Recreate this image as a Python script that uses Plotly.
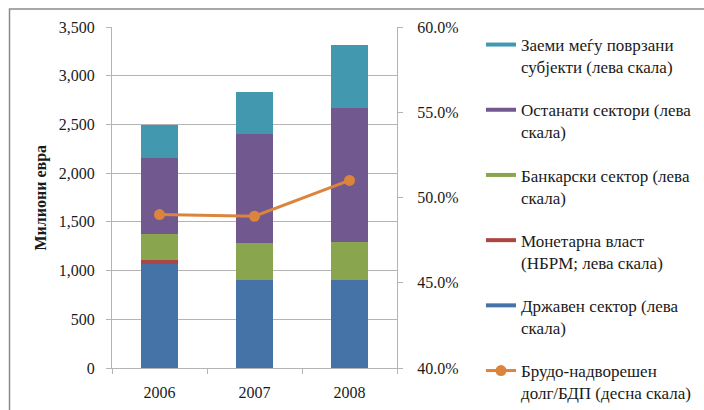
import plotly.graph_objects as go

# External debt by sector, million euro (left scale) and gross external debt / GDP (right scale)
years = ["2006", "2007", "2008"]
government = [1070, 900, 907]
monetary_authority = [40, 0, 0]
banking = [268, 382, 386]
other_sectors = [780, 1116, 1375]
intercompany = [332, 431, 646]
debt_to_gdp = [0.490, 0.489, 0.510]

left_ticks = [0, 500, 1000, 1500, 2000, 2500, 3000, 3500]
right_ticks = [0.40, 0.45, 0.50, 0.55, 0.60]

series = [
    ("Државен сектор (лева<br>скала)", government, "#4572A7", 5),
    ("Монетарна власт<br>(НБРМ; лева скала)", monetary_authority, "#AA4643", 4),
    ("Банкарски сектор (лева<br>скала)", banking, "#89A54E", 3),
    ("Останати сектори (лева<br>скала)", other_sectors, "#71588F", 2),
    ("Заеми меѓу поврзани<br>субјекти (лева скала)", intercompany, "#4198AF", 1),
]

FONT = "Liberation Serif, Times New Roman, serif"
GRID = "#b4b4b4"

fig = go.Figure()

for name, values, color, rank in series:
    fig.add_trace(go.Bar(
        x=years, y=values, name=name, marker=dict(color=color, line=dict(width=0)),
        showlegend=False, yaxis="y",
    ))
    # thin wide legend swatch
    fig.add_trace(go.Scatter(
        x=[None], y=[None], mode="lines", name=name,
        line=dict(color=color, width=4), legendgroup=name, legendrank=rank,
        showlegend=True, yaxis="y",
    ))

line_name = "Брудо-надворешен<br>долг/БДП (десна скала)"
fig.add_trace(go.Scatter(
    x=years, y=debt_to_gdp, name=line_name, mode="lines+markers",
    line=dict(color="#DB843D", width=3), marker=dict(size=11, color="#DB843D"),
    yaxis="y2", legendgroup=line_name, legendrank=6,
))

tick_font = dict(family=FONT, size=16, color="#1a1a1a")

fig.update_layout(
    width=704, height=410,
    margin=dict(l=112, r=307, t=27, b=42, autoexpand=False),
    paper_bgcolor="white", plot_bgcolor="white",
    barmode="stack", bargap=0.61,
    font=dict(family=FONT, size=16, color="#1a1a1a"),
    xaxis=dict(
        type="category", showgrid=False, showline=True, linecolor=GRID, linewidth=1,
        ticks="outside", tickson="boundaries", ticklen=5, tickcolor=GRID,
        tickfont=tick_font, ticklabelstandoff=10,
    ),
    yaxis=dict(
        range=[0, 3500], tickvals=left_ticks, tickformat=",d",
        showgrid=True, gridcolor=GRID, gridwidth=1,
        showline=True, linecolor=GRID, linewidth=1,
        ticks="outside", ticklen=5, tickcolor=GRID, tickfont=tick_font,
        ticklabelstandoff=8, zeroline=False,
    ),
    yaxis2=dict(
        overlaying="y", side="right", range=[0.40, 0.60], tickvals=right_ticks,
        tickformat=".1%", showgrid=False, showline=True, linecolor=GRID, linewidth=1,
        ticks="outside", ticklen=5, tickcolor=GRID, tickfont=tick_font,
        ticklabelstandoff=11, zeroline=False,
    ),
    legend=dict(
        x=1.2947, y=1.0, xanchor="left", yanchor="top", valign="top",
        traceorder="grouped", tracegroupgap=18, maxheight=405,
        font=dict(family=FONT, size=17, color="#1a1a1a"), bgcolor="rgba(0,0,0,0)",
    ),
    annotations=[dict(
        text="<b>Милиони евра</b>", textangle=-90, xref="paper", yref="paper",
        x=-0.2526, y=0.5, xanchor="center", yanchor="middle", showarrow=False,
        font=dict(family=FONT, size=16, color="#1a1a1a"),
    )],
    shapes=[dict(
        type="rect", xref="paper", yref="paper",
        x0=-0.3596, x1=2.2, y0=-0.2, y1=1.0528,
        line=dict(color="#8c8c8c", width=1.5), fillcolor="rgba(0,0,0,0)", layer="below",
    )],
)

fig.write_html("out.html")
